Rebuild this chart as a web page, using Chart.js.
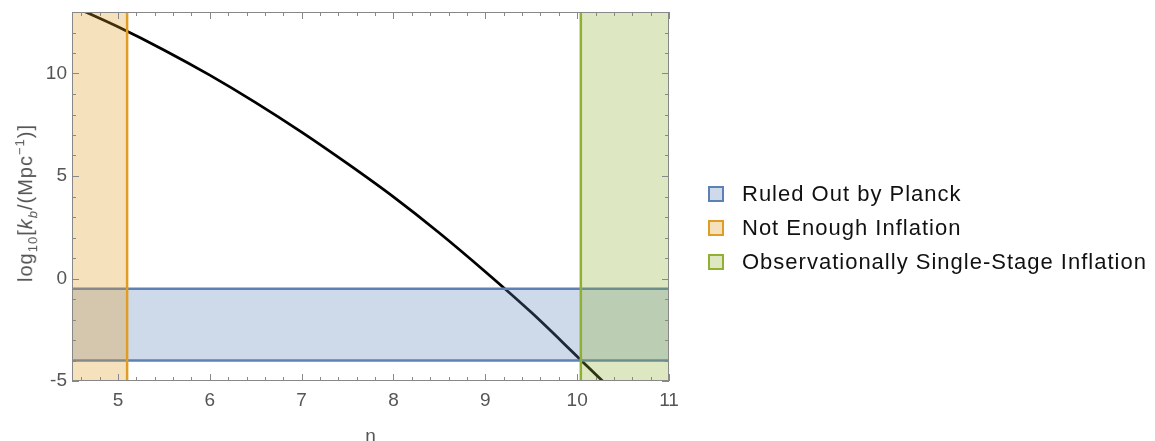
<!DOCTYPE html>
<html>
<head>
<meta charset="utf-8">
<script src="https://cdn.jsdelivr.net/npm/chart.js@4.4.1/dist/chart.umd.min.js"></script>
<style>
    body { margin: 0; background: #fff; }
    #wrap { position: relative; width: 1155px; height: 441px; }
    #yTitle {
        position: absolute; left: 26px; top: 203px;
        transform: translate(-50%, -50%) rotate(-90deg);
        font: 20px 'Liberation Sans', Arial, sans-serif; letter-spacing: 1px; color: #555; white-space: nowrap;
    }
    #yTitle sub, #yTitle sup { font-size: 13px; }
    #legend { position: absolute; left: 708px; top: 177px; font: 22px 'Liberation Sans', Arial, sans-serif; letter-spacing: 1px; color: #111; }
    .item { display: flex; align-items: center; height: 34px; }
    .box { width: 12px; height: 12px; border: 2px solid; margin-right: 18px; }
</style>
</head>
<body>
<div id="wrap">
    <canvas id="chart" width="1155" height="441"></canvas>
    <div id="yTitle">log<sub>10</sub>[<i>k</i><sub><i>b</i></sub>/(Mpc<sup>−1</sup>)]</div>
    <div id="legend"></div>
</div>
<script>
// Curve: log10 k_b vs n
const nValues = [4.6, 5.0, 5.5, 6.0, 6.5, 7.0, 7.5, 8.0, 8.5, 9.0, 9.5, 10.0, 10.3];
const logKb = [13.1, 12.28, 11.15, 9.92, 8.58, 7.14, 5.6, 3.98, 2.22, 0.33, -1.65, -3.8, -5.1];

// Excluded regions
const planckBand = [-4.0, -0.5];
const inflationLimit = 5.1;
const singleStageLimit = 10.04;

// Axes
const xRange = [4.5, 11];
const yRange = [-5, 13];
const xTicks = [5, 6, 7, 8, 9, 10, 11];
const yTicks = [-5, 0, 5, 10];

const labels = ['Ruled Out by Planck', 'Not Enough Inflation', 'Observationally Single-Stage Inflation'];
const lineColors = ['#5e81b5', '#e19c24', '#8fb032'];
const fillColors = ['rgba(94, 129, 181, 0.3)', 'rgba(225, 156, 36, 0.3)', 'rgba(143, 176, 50, 0.3)'];

// Legend
document.getElementById('legend').innerHTML = labels.map((l, i) => `
    <div class="item"><div class="box" style="border-color:${lineColors[i]};background:${fillColors[i]}"></div>${l}</div>
`).join('');

// Inside ticks + frame
const frameTicks = {
    id: 'frameTicks',
    afterDraw(chart) {
        const { ctx, chartArea: a, scales: { x, y } } = chart;
        ctx.save();
        ctx.strokeStyle = '#888';
        ctx.lineWidth = 1;
        ctx.strokeRect(a.left + 0.5, a.top + 0.5, a.right - a.left - 1, a.bottom - a.top - 1);
        ctx.beginPath();
        for (let v = 46; v <= 110; v += 2) {
            const px = Math.round(x.getPixelForValue(v / 10)) + 0.5;
            const len = v % 10 === 0 ? 7 : 4;
            ctx.moveTo(px, a.bottom); ctx.lineTo(px, a.bottom - len);
            ctx.moveTo(px, a.top); ctx.lineTo(px, a.top + len);
        }
        for (let v = -5; v <= 13; v++) {
            const py = Math.round(y.getPixelForValue(v)) + 0.5;
            const len = v % 5 === 0 ? 7 : 4;
            ctx.moveTo(a.left, py); ctx.lineTo(a.left + len, py);
            ctx.moveTo(a.right, py); ctx.lineTo(a.right - len, py);
        }
        ctx.stroke();
        ctx.restore();
    }
};

const tickFont = { family: "'Liberation Sans', Arial, sans-serif", size: 19 };

new Chart(document.getElementById('chart'), {
    type: 'line',
    data: {
        datasets: [
            {
                data: nValues.map((n, i) => ({ x: n, y: logKb[i] })),
                borderColor: '#000', borderWidth: 2.8, pointRadius: 0,
                cubicInterpolationMode: 'monotone', fill: false, clip: 0, order: 7
            },
            {
                data: [{ x: xRange[0], y: planckBand[1] }, { x: xRange[1], y: planckBand[1] }],
                borderColor: lineColors[0], borderWidth: 2.5, pointRadius: 0,
                backgroundColor: fillColors[0], fill: { value: planckBand[0] }, order: 6
            },
            {
                data: [{ x: xRange[0], y: planckBand[0] }, { x: xRange[1], y: planckBand[0] }],
                borderColor: lineColors[0], borderWidth: 2.5, pointRadius: 0, fill: false, order: 5
            },
            {
                data: [{ x: xRange[0], y: yRange[1] }, { x: inflationLimit, y: yRange[1] }],
                borderWidth: 0, pointRadius: 0, backgroundColor: fillColors[1], fill: 'start', order: 4
            },
            {
                data: [{ x: singleStageLimit, y: yRange[1] }, { x: xRange[1], y: yRange[1] }],
                borderWidth: 0, pointRadius: 0, backgroundColor: fillColors[2], fill: 'start', order: 3
            },
            {
                data: [{ x: inflationLimit, y: yRange[0] }, { x: inflationLimit, y: yRange[1] }],
                borderColor: lineColors[1], borderWidth: 2.5, pointRadius: 0, fill: false, order: 2
            },
            {
                data: [{ x: singleStageLimit, y: yRange[0] }, { x: singleStageLimit, y: yRange[1] }],
                borderColor: lineColors[2], borderWidth: 2.5, pointRadius: 0, fill: false, order: 1
            }
        ]
    },
    options: {
        responsive: false,
        animation: false,
        layout: { padding: { top: 12, right: 486, left: 0, bottom: 0 } },
        plugins: { legend: { display: false }, tooltip: { enabled: false } },
        scales: {
            x: {
                type: 'linear', min: xRange[0], max: xRange[1],
                afterBuildTicks: s => { s.ticks = xTicks.map(v => ({ value: v })); },
                afterFit: s => { s.height = 60; s.paddingLeft = 0; s.paddingRight = 0; },
                grid: { display: false, drawTicks: false },
                border: { display: false },
                ticks: { color: '#555', font: tickFont, padding: 8, maxRotation: 0 },
                title: { display: true, text: 'n', color: '#555', font: tickFont, padding: { top: 0, bottom: -7 } }
            },
            y: {
                type: 'linear', min: yRange[0], max: yRange[1],
                afterBuildTicks: s => { s.ticks = yTicks.map(v => ({ value: v })); },
                afterFit: s => { s.width = 72; s.paddingTop = 0; s.paddingBottom = 0; },
                grid: { display: false, drawTicks: false },
                border: { display: false },
                ticks: { color: '#555', font: tickFont, padding: 5 }
            }
        }
    },
    plugins: [frameTicks]
});
</script>
</body>
</html>
